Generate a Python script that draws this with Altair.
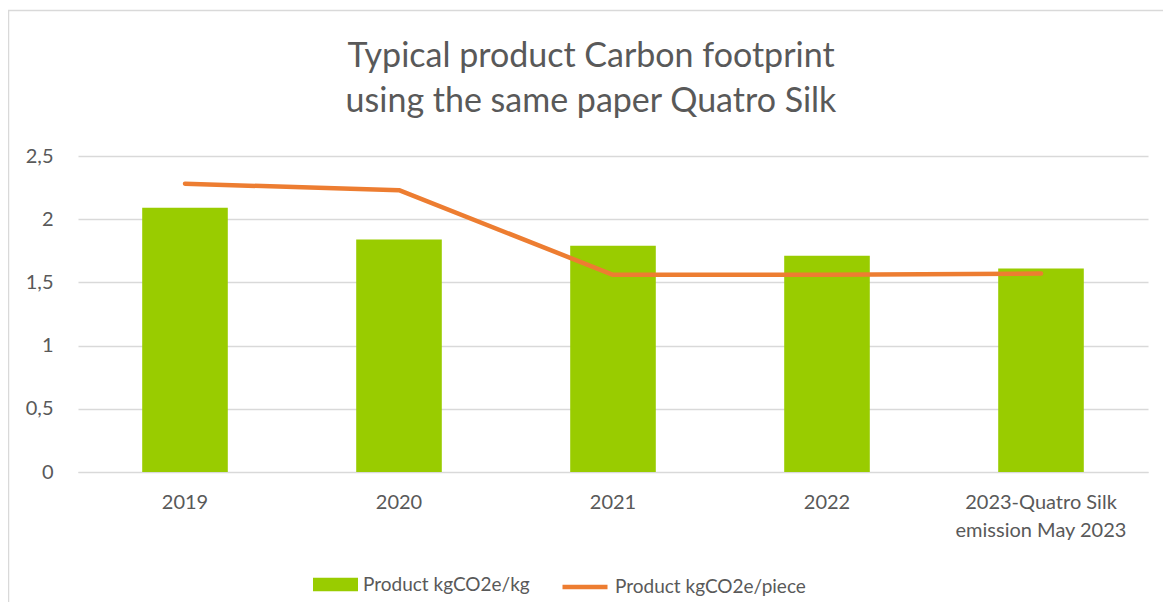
import altair as alt
import pandas as pd

categories = ["2019", "2020", "2021", "2022", "2023-Quatro Silk emission May 2023"]
kg_values = [2.09, 1.84, 1.79, 1.71, 1.61]
piece_values = [2.28, 2.23, 1.56, 1.56, 1.57]
series_names = ["Product kgCO2e/kg", "Product kgCO2e/piece"]
y_ticks = [0, 0.5, 1, 1.5, 2, 2.5]
title_lines = ["Typical product Carbon footprint", "using the same paper Quatro Silk"]

GREEN = "#99CC00"
ORANGE = "#ED7D31"
TEXT = "#595959"
GRID = "#D9D9D9"
FONT = "Lato"

df = pd.DataFrame({"category": categories, "kg": kg_values, "piece": piece_values})

label_expr = (
    "datum.label == '2023-Quatro Silk emission May 2023' ? "
    "['2023-Quatro Silk', 'emission May 2023'] : datum.label"
)

x_enc = alt.X(
    "category:N",
    sort=categories,
    scale=alt.Scale(paddingInner=0.6, paddingOuter=0.3),
    axis=alt.Axis(
        title=None, labelAngle=0, ticks=False, domainColor=GRID, domainWidth=1,
        labelPadding=20, labelExpr=label_expr, labelLineHeight=28,
        labelFontSize=20, labelColor=TEXT, labelFont=FONT, grid=False,
    ),
)

legend_common = dict(
    title=None, orient="none", direction="horizontal",
    symbolSize=2025, labelOffset=5, labelLimit=400,
    labelFontSize=19, labelColor=TEXT, labelFont=FONT,
    symbolOpacity=1,
)

bars = alt.Chart(df).transform_calculate(series="'Product kgCO2e/kg'").mark_bar(opacity=1).encode(
    x=x_enc,
    y=alt.Y(
        "kg:Q",
        scale=alt.Scale(domain=[0, 2.5], nice=False),
        axis=alt.Axis(
            title=None, values=y_ticks, domain=False, ticks=False,
            labelPadding=25, gridColor=GRID, gridWidth=1.3,
            labelExpr="replace(format(datum.value, '~g'), '.', ',')",
            labelFontSize=20, labelColor=TEXT, labelFont=FONT,
        ),
    ),
    fill=alt.Fill(
        "series:N",
        scale=alt.Scale(domain=[series_names[0]], range=[GREEN]),
        legend=alt.Legend(
            legendX=235, legendY=406, symbolType="M-1,-0.3H1V0.3H-1Z",
            symbolStrokeWidth=0, **legend_common,
        ),
    ),
)

line = alt.Chart(df).transform_calculate(series="'Product kgCO2e/piece'").mark_line(
    strokeWidth=4.5, strokeCap="round", strokeJoin="round"
).encode(
    x=alt.X("category:N", sort=categories),
    y=alt.Y("piece:Q"),
    stroke=alt.Stroke(
        "series:N",
        scale=alt.Scale(domain=[series_names[1]], range=[ORANGE]),
        legend=alt.Legend(
            legendX=482, legendY=406, symbolType="M-1,0H1",
            symbolStrokeWidth=4.5, **legend_common,
        ),
    ),
)

border = alt.Chart(pd.DataFrame({"a": [0]})).mark_rect(
    fillOpacity=0, stroke=GRID, strokeWidth=1.5
).encode(
    x=alt.value(-69.5), x2=alt.value(1300), y=alt.value(-145.5), y2=alt.value(800)
)

chart = alt.layer(border, bars, line).properties(
    width=1070,
    height=316,
    autosize=alt.AutoSizeParams(type="none"),
    padding={"left": 70, "top": 148, "right": 15, "bottom": 130},
    title=alt.Title(
        title_lines, anchor="middle", frame="group", dx=-22, offset=0, dy=143,
        baseline="bottom",
        fontSize=34, fontWeight="normal", font=FONT, color=TEXT, lineHeight=45,
    ),
).configure_view(stroke=None)

chart.save("out.html", embed_options={"renderer": "svg", "actions": False})
